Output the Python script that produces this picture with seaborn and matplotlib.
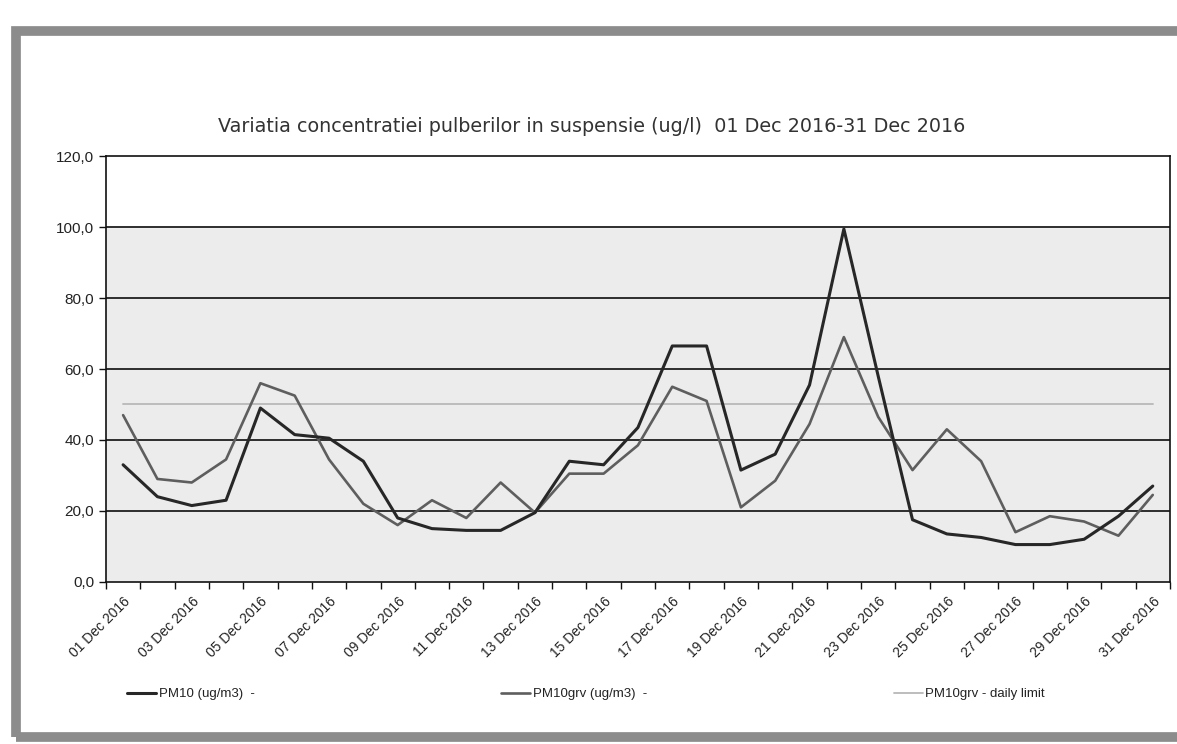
import matplotlib
matplotlib.use("Agg")
import matplotlib.pyplot as plt
from matplotlib.patches import Rectangle
from matplotlib.lines import Line2D
from matplotlib.ticker import FixedLocator, FuncFormatter
from matplotlib.transforms import ScaledTranslation
import numpy as np
import pandas as pd
import seaborn as sns

# daily values, 01..31 Dec 2016
day_labels = [f"{d:02d} Dec 2016" for d in range(1, 32)]
pm10 = [33, 24, 21.5, 23, 49, 41.5, 40.5, 34, 18, 15, 14.5, 14.5, 19.5, 34, 33,
        43.5, 66.5, 66.5, 31.5, 36, 55.5, 99.5, 58, 17.5, 13.5, 12.5, 10.5, 10.5,
        12, 18.5, 27]
pm10grv = [47, 29, 28, 34.5, 56, 52.5, 34.5, 22, 16, 23, 18, 28, 19.5, 30.5, 30.5,
           38.5, 55, 51, 21, 28.5, 44.5, 69, 46.5, 31.5, 43, 34, 14, 18.5, 17, 13,
           24.5]
daily_limit = [50] * 31
series_names = ["PM10 (ug/m3)  -", "PM10grv (ug/m3)  -", "PM10grv - daily limit"]
series_colors = ["#272727", "#5e5e5e", "#b8b8b8"]
series_widths = [2.2, 1.9, 1.3]

sns.set_style("white")
plt.rcParams["font.family"] = ["Liberation Sans", "DejaVu Sans"]

rows = []
for name, vals in zip(series_names, [pm10, pm10grv, daily_limit]):
    for i, v in enumerate(vals):
        rows.append({"day": i, "value": v, "series": name})
df = pd.DataFrame(rows)

fig = plt.figure(figsize=(11.77, 7.44), dpi=100)
ax = fig.add_axes([0.090, 0.218, 0.904, 0.572])
ax.set_facecolor("#ececec")
ax.axhspan(100, 120, color="white", zorder=0)

# gridlines
for yv in range(20, 120, 20):
    ax.axhline(yv, color="#1e1e1e", lw=1.3, zorder=1)

# limit first so the data lines sit on top
for name, col, lw in list(zip(series_names, series_colors, series_widths))[::-1]:
    sns.lineplot(data=df[df["series"] == name], x="day", y="value", ax=ax,
                 color=col, lw=lw, legend=False, zorder=3)

ax.set_xlim(-0.5, 30.5)
ax.set_ylim(0, 120)
ax.set_xlabel("")
ax.set_ylabel("")

ax.yaxis.set_major_locator(FixedLocator(range(0, 121, 20)))
ax.yaxis.set_major_formatter(FuncFormatter(lambda v, p: f"{v:.1f}".replace(".", ",")))
ax.tick_params(axis="y", length=5, width=1, color="#111", labelsize=11,
               labelcolor="#222", left=True, direction="out")

ax.set_xticks(range(0, 31, 2))
ax.set_xticklabels(day_labels[::2], rotation=45, ha="right",
                   rotation_mode="anchor", fontsize=10, color="#222")
shift = ScaledTranslation(-7 / 100, 2 / 100, fig.dpi_scale_trans)
for lab in ax.get_xticklabels():
    lab.set_transform(lab.get_transform() + shift)
ax.xaxis.set_minor_locator(FixedLocator(np.arange(-0.5, 31, 1)))
ax.tick_params(axis="x", which="major", length=0, pad=9)
ax.tick_params(axis="x", which="minor", length=5, width=1, color="#111",
               bottom=True, direction="out")

for s in ax.spines.values():
    s.set_color("#111")
    s.set_linewidth(1.2)

fig.text(0.503, 0.830, "Variatia concentratiei pulberilor in suspensie (ug/l)  01 Dec 2016-31 Dec 2016",
         ha="center", va="center", fontsize=13.8, color="#333",
         family=["DejaVu Sans"])

handles = [Line2D([0], [0], color=c, lw=w) for c, w in zip(series_colors, series_widths)]
fig.legend(handles, series_names, loc="lower left", ncol=3, mode="expand",
           bbox_to_anchor=(0.098, 0.043, 0.80, 0.05), frameon=False,
           fontsize=9.5, handlelength=2.2, handletextpad=0.2, labelcolor="#222")

# scanned page frame
fig.patches.append(Rectangle((0.0135, 0.009), 1.05, 0.950, transform=fig.transFigure,
                             fill=False, edgecolor="#8c8c8c", lw=7, zorder=0))

fig.savefig("out.png", dpi=100)
